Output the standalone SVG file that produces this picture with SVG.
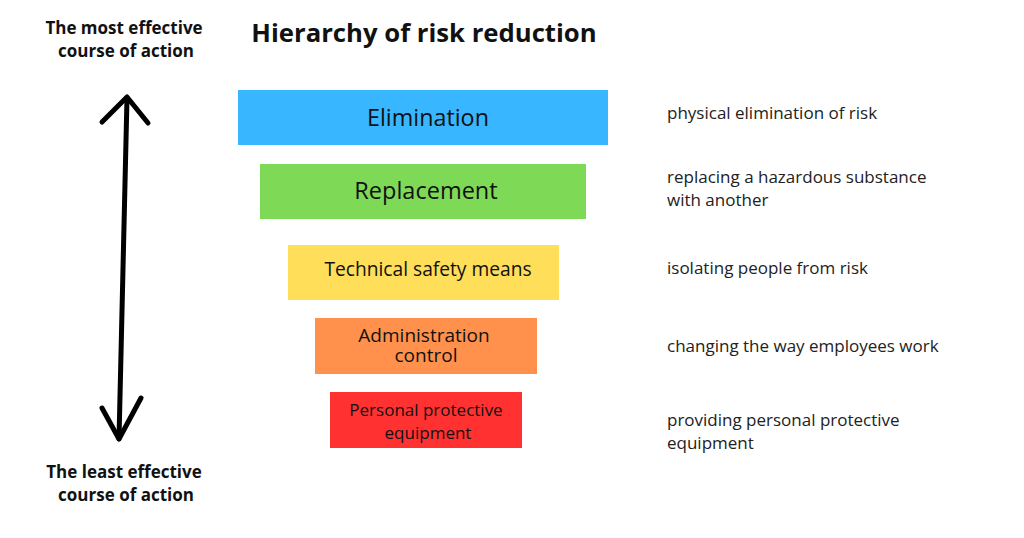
<svg xmlns="http://www.w3.org/2000/svg" width="1024" height="538" viewBox="0 0 1024 538">
<style>
text{font-family:"Open Sans","Noto Sans","Liberation Sans",sans-serif;fill:#111}
.lbl{font-weight:700;font-size:17px;text-anchor:middle}
.box{text-anchor:middle}
.desc{font-size:17px;fill:#222}
.arr{fill:none;stroke:#000;stroke-width:5;stroke-linecap:round;stroke-linejoin:round}
</style>
<rect width="1024" height="538" fill="#fff"/>
<text x="124" y="34" class="lbl">The most effective</text>
<text x="126" y="57" class="lbl">course of action</text>
<text x="124" y="478" class="lbl">The least effective</text>
<text x="126" y="501" class="lbl">course of action</text>
<text x="424" y="42" style="font-weight:700;font-size:25.7px;text-anchor:middle">Hierarchy of risk reduction</text>
<g id="connectors">
<path class="arr" d="M127 98 L119 439"/>
<path class="arr" d="M102 122 L127 97 L148 123"/>
<path class="arr" d="M102 408 L119 439 L141 398"/>
</g>
<g id="elimination">
<rect x="238" y="90" width="370" height="55" fill="#38b6ff"/>
<text x="428" y="126" class="box" style="font-size:23.3px">Elimination</text>
</g>
<g id="replacement">
<rect x="260" y="164" width="326" height="55" fill="#7ed957"/>
<text x="426" y="199" class="box" style="font-size:23.5px">Replacement</text>
</g>
<g id="technical">
<rect x="288" y="245" width="271" height="55" fill="#ffde59"/>
<text x="428" y="276" class="box" style="font-size:19.2px">Technical safety means</text>
</g>
<g id="administration">
<rect x="315" y="318" width="222" height="56" fill="#ff914d"/>
<text x="424" y="342" class="box" style="font-size:19px">Administration</text>
<text x="426" y="362" class="box" style="font-size:19px">control</text>
</g>
<g id="ppe">
<rect x="330" y="392" width="192" height="56" fill="#ff3131"/>
<text x="426" y="416" class="box" style="font-size:17px">Personal protective</text>
<text x="428" y="439" class="box" style="font-size:17px">equipment</text>
</g>
<g id="descriptions">
<text x="667" y="119" class="desc">physical elimination of risk</text>
<text x="667" y="183" class="desc">replacing a hazardous substance</text>
<text x="667" y="206" class="desc">with another</text>
<text x="667" y="274" class="desc">isolating people from risk</text>
<text x="667" y="352" class="desc">changing the way employees work</text>
<text x="667" y="426" class="desc">providing personal protective</text>
<text x="667" y="449" class="desc">equipment</text>
</g>
</svg>
